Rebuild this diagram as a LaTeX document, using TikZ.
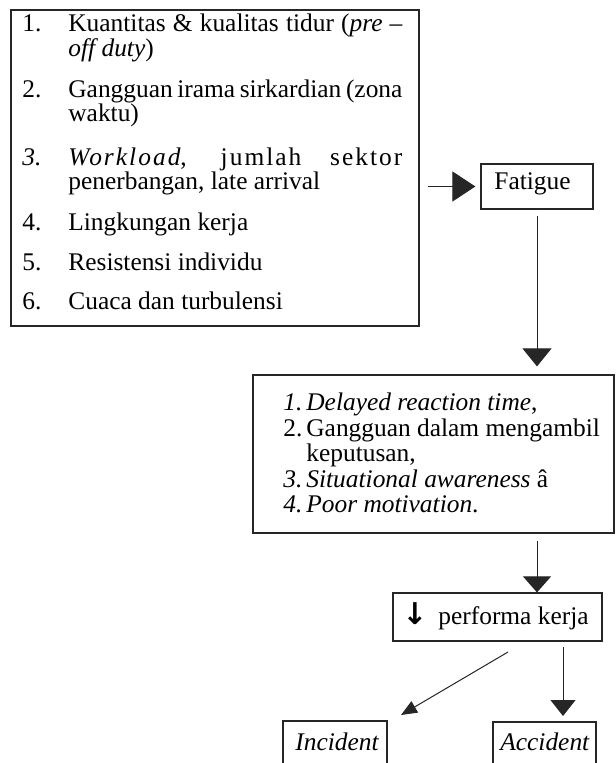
\documentclass[tikz,border=0pt]{standalone}
\usepackage{fontspec}
\setmainfont{Liberation Serif}
\newfontfamily\symfont{DejaVu Sans}
\usetikzlibrary{arrows.meta}
\begin{document}
\begin{tikzpicture}[x=0.5pt,y=-0.5pt,
  box/.style={draw=black!85,line width=0.6pt,inner sep=0pt,rectangle},
  txt/.style={anchor=base west,inner sep=0pt,font=\fontsize{12.7}{14}\selectfont},
  ln/.style={draw=black!85,line width=0.5pt},
]
\clip (0,0) rectangle (615,763);
% boxes
\node[box,minimum width=204pt,minimum height=158pt] (list) at (215,168) {};
\node[box,minimum width=56pt,minimum height=22.5pt] (fatigue) at (537,186.5) {};
\node[box,minimum width=180.5pt,minimum height=79pt] (mid) at (433.5,454) {};
\node[box,minimum width=104.5pt,minimum height=24pt] (perf) at (497.5,617) {};
\node[box,minimum width=52pt,minimum height=30pt] (inc) at (335,751) {};
\node[box,minimum width=51.5pt,minimum height=30pt] (acc) at (544.5,752) {};
% left list
\node[txt] (n1) at (22,32) {1.};
\node[txt] (t1) at (68,32) {\makebox[167pt][s]{Kuantitas \& kualitas tidur (\textit{pre} –}};
\node[txt] (t1b) at (68,57) {\textit{off duty})};
\node[txt] (n2) at (22,98) {2.};
\node[txt] (t2) at (68,98) {\makebox[167pt][s]{Gangguan irama sirkardian (zona}};
\node[txt] (t2b) at (68,122) {waktu)};
\node[txt] (n3) at (22,166) {\textit{3.}};
\node[txt] (t3) at (68,166) {\addfontfeature{LetterSpace=8}\makebox[167pt][s]{\textit{Workload}, jumlah sektor}};
\node[txt] (t3b) at (68,190) {penerbangan, late arrival};
\node[txt] (n4) at (22,231) {4.};
\node[txt] (t4) at (68,231) {Lingkungan kerja};
\node[txt] (n5) at (22,271) {5.};
\node[txt] (t5) at (68,271) {Resistensi individu};
\node[txt] (n6) at (22,310) {6.};
\node[txt] (t6) at (68,310) {Cuaca dan turbulensi};
% fatigue
\node[txt] (tf) at (494,190) {Fatigue};
% middle box
\node[txt] (m1n) at (283,410) {\textit{1.}};
\node[txt] (m1) at (306,410) {\textit{Delayed reaction time},};
\node[txt] (m2n) at (283,436) {2.};
\node[txt] (m2) at (306,436) {Gangguan dalam mengambil};
\node[txt] (m2b) at (306,461) {keputusan,};
\node[txt] (m3n) at (283,487) {\textit{3.}};
\node[txt] (m3) at (306,487) {\textit{Situational awareness} â};
\node[txt] (m4n) at (283,512) {\textit{4.}};
\node[txt] (m4) at (306,512) {\textit{Poor motivation}.};
% performa
\node[txt] (tarr) at (402,624) {\symfont\bfseries\fontsize{15}{16}\selectfont ↓};
\node[txt] (tp) at (438,624) {performa kerja};
% incident / accident
\node[txt] (ti) at (295,750) {\textit{Incident}};
\node[txt] (ta) at (500,750) {\textit{Accident}};
% connectors
\draw[ln,shorten <=4pt,shorten >=2.5pt,-{Triangle[length=11.5pt,width=15pt]}]
  (list.east |- fatigue.west) -- (fatigue.west);
\draw[ln,shorten <=3pt,shorten >=4pt,-{Triangle[length=9pt,width=14.5pt]}]
  (fatigue.south) -- (fatigue.south |- mid.north);
\draw[ln,shorten <=3.5pt,-{Triangle[length=8pt,width=14pt]}]
  (fatigue.south |- mid.south) -- (fatigue.south |- perf.north);
\coordinate (d1) at (508,652);
\coordinate (d2) at (401,715);
\draw[ln,-{Triangle[length=8pt,width=6.5pt]}] (d1) -- (d2);
\coordinate (v1) at (563,647);
\coordinate (v2) at (563,716);
\draw[ln,-{Triangle[length=8pt,width=12.5pt]}] (v1) -- (v2);
\end{tikzpicture}
\end{document}
